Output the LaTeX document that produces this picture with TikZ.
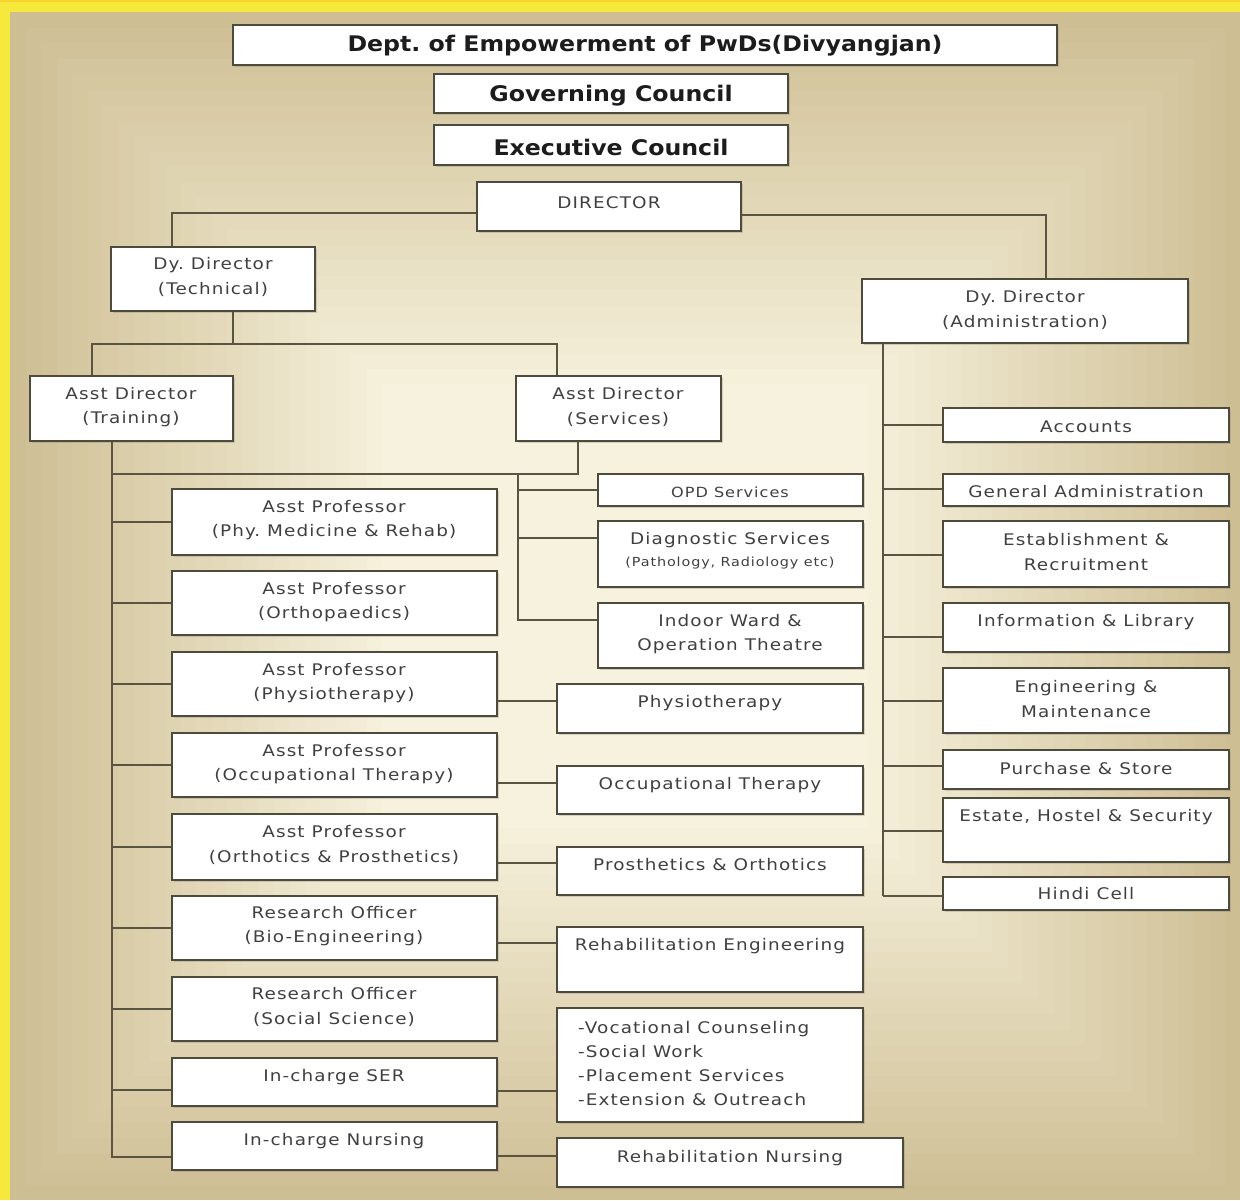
\documentclass[tikz,border=0pt]{standalone}
\usepackage{fontspec}
\setmainfont{DejaVu Sans}[FakeStretch=1.15, LetterSpace=7]
\newfontfamily\ttlfont{DejaVu Sans}[FakeStretch=1.1]
\frenchspacing
\usetikzlibrary{fit,shadows}
\definecolor{yel}{RGB}{247,232,60}
\definecolor{tanedge}{RGB}{206,190,148}
\definecolor{tancenter}{RGB}{248,244,224}
\definecolor{boxline}{RGB}{78,74,60}
\definecolor{connc}{RGB}{90,84,66}
\definecolor{txtc}{RGB}{64,64,64}
\definecolor{ttlc}{RGB}{28,28,28}
\tikzset{
  box/.style={draw=boxline, line width=1.8pt, fill=white, inner sep=0pt,
    drop shadow={shadow xshift=1.5pt, shadow yshift=-1.5pt, opacity=0.3}},
  lbl/.style={text=txtc, align=center, inner sep=0pt, font=\fontsize{16}{24.5}\selectfont},
  ttl/.style={text=ttlc, align=center, inner sep=0pt, font=\ttlfont\fontsize{21.5}{24}\selectfont\bfseries},
  connl/.style={draw=connc, line width=1.8pt},
}
\newcommand\bx[5]{\node[box, fit={(#2,#3) (#4,#5)}] (#1) {};}
\begin{document}
\begin{tikzpicture}[x=1pt,y=-1pt]
\useasboundingbox (0,0) rectangle (1240,1200);
% background
\fill[yel] (0,0) rectangle (1240,1200);
\fill[yel!80!orange] (0,0) rectangle (1240,2);
\foreach \i in {0,...,24}{
  \pgfmathtruncatemacro\p{\i*4}
  \fill[tancenter!\p!tanedge] (10+\i*15.5,12+\i*15.5) rectangle (1240-\i*15.5,1200-\i*15.5);
}
% junction coordinates
\coordinate (j1) at (172,213);
\coordinate (j2) at (1046,215);
\coordinate (j3) at (233,344);
\coordinate (j3a) at (92,344);
\coordinate (j3b) at (557,344);
\coordinate (j4) at (112,474);
\coordinate (j5) at (578,474);
\coordinate (jn) at (112,1157);
\coordinate (j6) at (518,474);
\coordinate (j7) at (518,620);
\coordinate (j8) at (518,538);
\coordinate (j9) at (518,490);
\coordinate (ja) at (883,896);
\coordinate (k1) at (527,701);
\coordinate (k2) at (527,783);
\coordinate (k3) at (527,863);
\coordinate (k4) at (527,943);
\coordinate (k5) at (527,1091);
\coordinate (k6) at (527,1156);
\coordinate (s8) at (140,1090);
\coordinate (a1) at (900,425);
\coordinate (a2) at (900,489);
\coordinate (a3) at (900,555);
\coordinate (a4) at (900,637);
\coordinate (a5) at (900,701);
\coordinate (a6) at (900,766);
\coordinate (a7) at (900,831);
\coordinate (a8) at (900,896);
% boxes
\bx{dept}{233}{25}{1057}{65}
\bx{gov}{434}{74}{788}{113}
\bx{exe}{434}{125}{788}{165}
\bx{dir}{477}{182}{741}{231}
\bx{ddt}{111}{247}{315}{311}
\bx{dda}{862}{279}{1188}{343}
\bx{adt}{30}{376}{233}{441}
\bx{ads}{516}{376}{721}{441}
\bx{p1}{172}{489}{497}{555}
\bx{p2}{172}{571}{497}{635}
\bx{p3}{172}{652}{497}{716}
\bx{p4}{172}{733}{497}{797}
\bx{p5}{172}{814}{497}{880}
\bx{p6}{172}{896}{497}{960}
\bx{p7}{172}{977}{497}{1041}
\bx{p8}{172}{1058}{497}{1106}
\bx{p9}{172}{1122}{497}{1170}
\bx{opd}{598}{474}{863}{506}
\bx{diag}{598}{521}{863}{587}
\bx{ind}{598}{603}{863}{668}
\bx{sphy}{557}{684}{863}{733}
\bx{sot}{557}{766}{863}{814}
\bx{spo}{557}{847}{863}{895}
\bx{sre}{557}{927}{863}{992}
\bx{svoc}{557}{1008}{863}{1122}
\bx{srn}{557}{1138}{903}{1187}
\bx{acc}{943}{408}{1229}{442}
\bx{gad}{943}{474}{1229}{506}
\bx{est}{943}{521}{1229}{587}
\bx{inf}{943}{603}{1229}{652}
\bx{eng}{943}{668}{1229}{733}
\bx{pur}{943}{750}{1229}{789}
\bx{esh}{943}{798}{1229}{862}
\bx{hin}{943}{877}{1229}{910}
% connectors
\draw[connl] (dir.west|-j1) -- (j1) -- (ddt.north-|j1);
\draw[connl] (dir.east|-j2) -- (j2) -- (dda.north-|j2);
\draw[connl] (ddt.south-|j3) -- (j3);
\draw[connl] (adt.north-|j3a) -- (j3a) -- (j3b) -- (ads.north-|j3b);
\draw[connl] (ads.south-|j5) -- (j5) -- (j4);
\draw[connl] (adt.south-|j4) -- (jn) -- (p9.west|-jn);
\foreach \b in {p1,p2,p3,p4,p5,p6,p7}{\draw[connl] (\b.west) -- (\b.west-|j4);}
\draw[connl] (p8.west|-s8) -- (s8-|j4);
\draw[connl] (j6) -- (j7) -- (ind.west|-j7);
\draw[connl] (j9) -- (opd.west|-j9);
\draw[connl] (j8) -- (diag.west|-j8);
\draw[connl] (p3.east|-k1) -- (sphy.west|-k1);
\draw[connl] (p4.east|-k2) -- (sot.west|-k2);
\draw[connl] (p5.east|-k3) -- (spo.west|-k3);
\draw[connl] (p6.east|-k4) -- (sre.west|-k4);
\draw[connl] (p8.east|-k5) -- (svoc.west|-k5);
\draw[connl] (p9.east|-k6) -- (srn.west|-k6);
\draw[connl] (dda.south-|ja) -- (ja);
\draw[connl] (ja|-a1) -- (acc.west|-a1);
\draw[connl] (ja|-a2) -- (gad.west|-a2);
\draw[connl] (ja|-a3) -- (est.west|-a3);
\draw[connl] (ja|-a4) -- (inf.west|-a4);
\draw[connl] (ja|-a5) -- (eng.west|-a5);
\draw[connl] (ja|-a6) -- (pur.west|-a6);
\draw[connl] (ja|-a7) -- (esh.west|-a7);
\draw[connl] (ja|-a8) -- (hin.west|-a8);
% texts
\node[ttl] (tdept) at (645,46) {Dept. of Empowerment of PwDs(Divyangjan)};
\node[ttl] (tgov) at (611,96) {Governing Council};
\node[ttl] (texe) at (611,147) {Executive Council};
\node[lbl] (tdir) at (609,203) {DIRECTOR};
\node[lbl] (tddt) at (213,277) {Dy. Director\\(Technical)};
\node[lbl] (tdda) at (1025,310) {Dy. Director\\(Administration)};
\node[lbl] (tadt) at (131,407) {Asst Director\\(Training)};
\node[lbl] (tads) at (618,407) {Asst Director\\(Services)};
\node[lbl] (tp1) at (334,520) {Asst Professor\\(Phy. Medicine \& Rehab)};
\node[lbl] (tp2) at (334,602) {Asst Professor\\(Orthopaedics)};
\node[lbl] (tp3) at (334,683) {Asst Professor\\(Physiotherapy)};
\node[lbl] (tp4) at (334,764) {Asst Professor\\(Occupational Therapy)};
\node[lbl] (tp5) at (334,845) {Asst Professor\\(Orthotics \& Prosthetics)};
\node[lbl] (tp6) at (334,926) {Research Officer\\(Bio-Engineering)};
\node[lbl] (tp7) at (334,1007) {Research Officer\\(Social Science)};
\node[lbl] (tp8) at (334,1077) {In-charge SER};
\node[lbl] (tp9) at (334,1141) {In-charge Nursing};
\node[lbl, font=\fontsize{14}{17}\selectfont] (topd) at (730,492) {OPD Services};
\node[lbl] (tdiag1) at (730,540) {Diagnostic Services};
\node[lbl, font=\fontsize{12.5}{15}\selectfont] (tdiag2) at (730,563) {(Pathology, Radiology etc)};
\node[lbl] (tind) at (730,634) {Indoor Ward \&\\Operation Theatre};
\node[lbl] (tsphy) at (710,703) {Physiotherapy};
\node[lbl] (tsot) at (710,785) {Occupational Therapy};
\node[lbl] (tspo) at (710,865) {Prosthetics \& Orthotics};
\node[lbl] (tsre) at (710,946) {Rehabilitation Engineering};
\node[lbl, align=left, anchor=west, font=\fontsize{16}{24}\selectfont] (tsvoc) at (578,1064) {-Vocational Counseling\\-Social Work\\-Placement Services\\-Extension \& Outreach};
\node[lbl] (tsrn) at (730,1158) {Rehabilitation Nursing};
\node[lbl] (tacc) at (1086,427) {Accounts};
\node[lbl] (tgad) at (1086,492) {General Administration};
\node[lbl] (test) at (1086,552) {Establishment \&\\Recruitment};
\node[lbl] (tinf) at (1086,622) {Information \& Library};
\node[lbl] (teng) at (1086,699) {Engineering \&\\Maintenance};
\node[lbl] (tpur) at (1086,769) {Purchase \& Store};
\node[lbl] (tesh) at (1086,817) {Estate, Hostel \& Security};
\node[lbl] (thin) at (1086,894) {Hindi Cell};
\end{tikzpicture}
\end{document}
